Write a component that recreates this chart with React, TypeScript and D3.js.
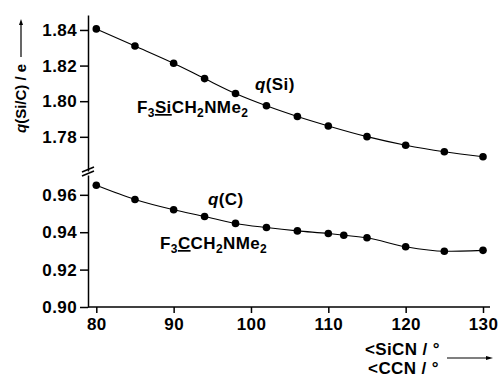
import React, { useEffect, useRef } from 'react';
import * as d3 from 'd3';

// angle (deg) and charges
const siAngles = [80, 85, 90, 94, 98, 102, 106, 110, 115, 120, 125, 130];
const siCharges = [1.8406, 1.8310, 1.8213, 1.8127, 1.8043, 1.7974, 1.7914, 1.7861, 1.7801, 1.7753, 1.7716, 1.7688];
const cAngles = [80, 85, 90, 94, 98, 102, 106, 110, 112, 115, 120, 125, 130];
const cCharges = [0.9651, 0.9575, 0.9520, 0.9484, 0.9447, 0.9425, 0.9407, 0.9393, 0.9384, 0.9370, 0.9322, 0.9298, 0.9303];
const xTicks = [80, 90, 100, 110, 120, 130];
const topTicks = [1.78, 1.80, 1.82, 1.84];
const bottomTicks = [0.90, 0.92, 0.94, 0.96];

const FONT = '"Liberation Sans", Arial, sans-serif';

export default function App() {
  const svgRef = useRef<SVGSVGElement>(null);

  useEffect(() => {
    if (!svgRef.current) return;
    const svg = d3.select(svgRef.current);
    svg.selectAll('*').remove();

    const x = d3.scaleLinear().domain([80, 130]).range([96.3, 483]);
    const yTop = d3.scaleLinear().domain([1.7608, 1.8484]).range([171, 15]);
    const yBot = d3.scaleLinear().domain([0.90, 0.9706]).range([307, 175]);
    const axisX = 88;

    const g = svg.append('g')
      .attr('font-family', FONT)
      .attr('font-weight', 'bold')
      .attr('font-size', 17)
      .attr('letter-spacing', 0.4);

    const styleText = (sel: any) =>
      sel.attr('font-family', FONT).attr('font-weight', 'bold').attr('font-size', 17).attr('fill', '#000');

    // y axes (split)
    const drawY = (scale: d3.ScaleLinear<number, number>, ticks: number[]) => {
      const ax = g.append('g')
        .attr('transform', `translate(${axisX},0)`)
        .call(d3.axisLeft(scale).tickValues(ticks).tickFormat(d3.format('.2f')).tickSize(8).tickSizeOuter(0).tickPadding(3));
      ax.select('.domain').attr('stroke', '#000').attr('stroke-width', 1.5);
      ax.selectAll('.tick line').attr('stroke', '#000').attr('stroke-width', 1.5);
      styleText(ax.selectAll('.tick text'));
    };
    drawY(yTop, topTicks);
    drawY(yBot, bottomTicks);

    // axis break marks
    [0, 4].forEach(off => {
      g.append('line')
        .attr('x1', axisX - 6).attr('y1', 176 - off)
        .attr('x2', axisX + 6).attr('y2', 171 - off)
        .attr('stroke', '#000').attr('stroke-width', 1.5);
    });

    // x axis
    const xa = g.append('g')
      .attr('transform', `translate(0,${yBot(0.90)})`)
      .call(d3.axisBottom(x).tickValues(xTicks).tickSize(6).tickSizeOuter(0).tickPadding(5));
    xa.select('.domain').attr('d', `M${axisX},0H490`).attr('stroke', '#000').attr('stroke-width', 1.5);
    xa.selectAll('.tick line').attr('stroke', '#000').attr('stroke-width', 1.5);
    styleText(xa.selectAll('.tick text'));

    // curves and points
    const drawSeries = (xs: number[], ys: number[], scale: d3.ScaleLinear<number, number>) => {
      const pts = xs.map((v, i) => [v, ys[i]] as [number, number]);
      const line = d3.line<[number, number]>()
        .x(d => x(d[0]))
        .y(d => scale(d[1]))
        .curve(d3.curveMonotoneX);
      g.append('path').attr('d', line(pts)).attr('fill', 'none').attr('stroke', '#000').attr('stroke-width', 1.1);
      g.selectAll(null).data(pts).enter().append('circle')
        .attr('cx', d => x(d[0])).attr('cy', d => scale(d[1])).attr('r', 3.8).attr('fill', '#000');
    };
    drawSeries(siAngles, siCharges, yTop);
    drawSeries(cAngles, cCharges, yBot);

    // series labels
    const qLabel = (px: number, py: number, el: string) => {
      const t = g.append('text').attr('x', px).attr('y', py);
      t.append('tspan').attr('font-style', 'italic').text('q');
      t.append('tspan').text(`(${el})`);
    };
    qLabel(255, 90, 'Si');
    qLabel(208, 205, 'C');

    const formula = (px: number, py: number, center: string) => {
      const t = g.append('text').attr('x', px).attr('y', py);
      t.append('tspan').text('F');
      t.append('tspan').attr('font-size', 12).attr('dy', 4).text('3');
      t.append('tspan').attr('dy', -4).attr('text-decoration', 'underline').text(center);
      t.append('tspan').text('CH');
      t.append('tspan').attr('font-size', 12).attr('dy', 4).text('2');
      t.append('tspan').attr('dy', -4).text('NMe');
      t.append('tspan').attr('font-size', 12).attr('dy', 4).text('2');
    };
    formula(137, 113, 'Si');
    formula(160, 249, 'C');

    // y title with arrow
    const yt = g.append('text')
      .attr('transform', 'translate(26,133) rotate(-90)')
      .attr('font-size', 15)
      .attr('letter-spacing', 0);
    yt.append('tspan').attr('font-style', 'italic').text('q');
    yt.append('tspan').text('(Si/C) / e');
    g.append('line').attr('x1', 21).attr('x2', 21).attr('y1', 57).attr('y2', 22)
      .attr('stroke', '#000').attr('stroke-width', 1.2);
    g.append('path').attr('d', 'M21,19L19,25L23,25Z').attr('fill', '#000');

    // x title with arrow
    g.append('text').attr('x', 440).attr('y', 355).attr('text-anchor', 'end').text('<SiCN / °');
    g.append('text').attr('x', 439).attr('y', 374).attr('text-anchor', 'end').text('<CCN / °');
    g.append('line').attr('x1', 447).attr('x2', 488).attr('y1', 358).attr('y2', 358)
      .attr('stroke', '#000').attr('stroke-width', 1.2);
    g.append('path').attr('d', 'M493,358L486,356L486,360Z').attr('fill', '#000');
  }, []);

  return (
    <svg ref={svgRef} width={500} height={377}
      style={{ position: 'absolute', left: 0, top: 0, background: '#fff' }} />
  );
}
